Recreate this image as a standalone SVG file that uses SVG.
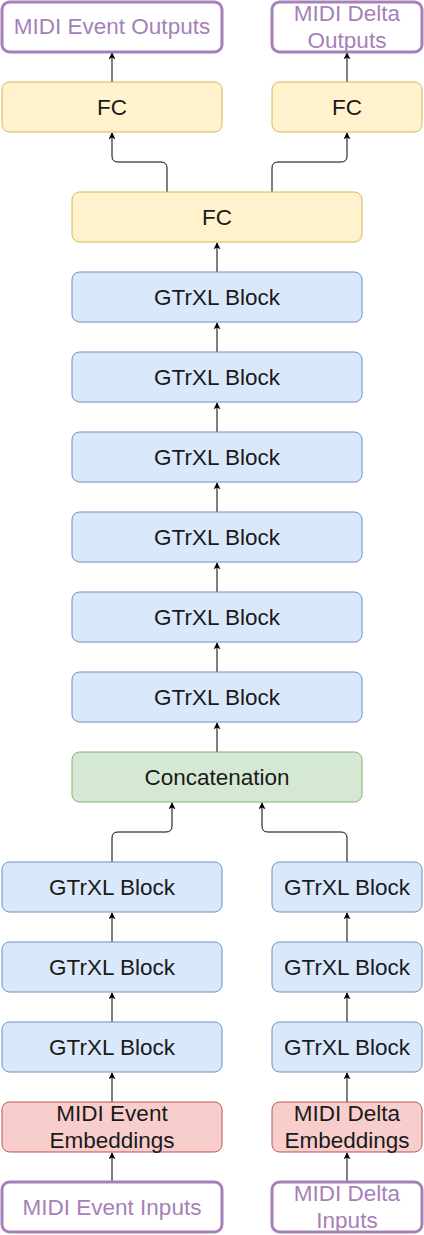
<svg xmlns="http://www.w3.org/2000/svg" width="424" height="1235" viewBox="0 0 424 1235">
<defs>
<marker id="arr" viewBox="0 0 10 10" refX="9" refY="5" markerWidth="7" markerHeight="7" markerUnits="userSpaceOnUse" orient="auto">
<path d="M0,0 L10,5 L0,10 L2.5,5 Z" fill="#000"/>
</marker>
<style>
rect{stroke-width:1}
.blue{fill:#dae8fc;stroke:#6c8ebf}
.yel{fill:#fff2cc;stroke:#d6b656}
.grn{fill:#d5e8d4;stroke:#82b366}
.red{fill:#f8cecc;stroke:#b85450}
.pur{fill:#fff;stroke:#a680b8;stroke-width:3}
text{font-size:22.5px;text-anchor:middle;fill:#1a1a1a}
.pt{fill:#a680b8}
.c path{fill:none;stroke:#000;stroke-width:1;marker-end:url(#arr)}
</style>
</defs>
<g class="c" id="connectors">
<path d="M112,82 V53"/>
<path d="M347,82 V53"/>
<path d="M167,192 V168 Q167,162 161,162 H118 Q112,162 112,156 V133"/>
<path d="M272,192 V168 Q272,162 278,162 H341 Q347,162 347,156 V133"/>
<path d="M217,272 V243"/>
<path d="M217,352 V323"/>
<path d="M217,432 V403"/>
<path d="M217,512 V483"/>
<path d="M217,592 V563"/>
<path d="M217,672 V643"/>
<path d="M217,752 V723"/>
<path d="M112,862 V838 Q112,832 118,832 H166 Q172,832 172,826 V803"/>
<path d="M347,862 V838 Q347,832 341,832 H268 Q262,832 262,826 V803"/>
<path d="M112,942 V913"/>
<path d="M347,942 V913"/>
<path d="M112,1022 V993"/>
<path d="M347,1022 V993"/>
<path d="M112,1102 V1073"/>
<path d="M347,1102 V1073"/>
<path d="M112,1182 V1153"/>
<path d="M347,1182 V1153"/>
</g>
<g font-family="Liberation Sans, Arial, Helvetica, sans-serif">
<g id="out-event"><rect class="pur" x="2" y="2" width="220" height="50" rx="7.5"/><text class="pt" x="112" y="34">MIDI Event Outputs</text></g>
<g id="out-delta"><rect class="pur" x="272" y="2" width="150" height="50" rx="7.5"/><text class="pt" x="347" y="21">MIDI Delta</text><text class="pt" x="347" y="48">Outputs</text></g>
<g id="fc-left"><rect class="yel" x="2" y="82" width="220" height="50" rx="7.5"/><text x="112" y="115">FC</text></g>
<g id="fc-right"><rect class="yel" x="272" y="82" width="150" height="50" rx="7.5"/><text x="347" y="115">FC</text></g>
<g id="fc-center"><rect class="yel" x="72" y="192" width="290" height="50" rx="7.5"/><text x="217" y="225">FC</text></g>
<g id="g6"><rect class="blue" x="72" y="272" width="290" height="50" rx="7.5"/><text x="217" y="305">GTrXL Block</text></g>
<g id="g5"><rect class="blue" x="72" y="352" width="290" height="50" rx="7.5"/><text x="217" y="385">GTrXL Block</text></g>
<g id="g4"><rect class="blue" x="72" y="432" width="290" height="50" rx="7.5"/><text x="217" y="465">GTrXL Block</text></g>
<g id="g3"><rect class="blue" x="72" y="512" width="290" height="50" rx="7.5"/><text x="217" y="545">GTrXL Block</text></g>
<g id="g2"><rect class="blue" x="72" y="592" width="290" height="50" rx="7.5"/><text x="217" y="625">GTrXL Block</text></g>
<g id="g1"><rect class="blue" x="72" y="672" width="290" height="50" rx="7.5"/><text x="217" y="705">GTrXL Block</text></g>
<g id="concat"><rect class="grn" x="72" y="752" width="290" height="50" rx="7.5"/><text x="217" y="785">Concatenation</text></g>
<g id="l3"><rect class="blue" x="2" y="862" width="220" height="50" rx="7.5"/><text x="112" y="895">GTrXL Block</text></g>
<g id="l2"><rect class="blue" x="2" y="942" width="220" height="50" rx="7.5"/><text x="112" y="975">GTrXL Block</text></g>
<g id="l1"><rect class="blue" x="2" y="1022" width="220" height="50" rx="7.5"/><text x="112" y="1055">GTrXL Block</text></g>
<g id="r3"><rect class="blue" x="272" y="862" width="150" height="50" rx="7.5"/><text x="347" y="895">GTrXL Block</text></g>
<g id="r2"><rect class="blue" x="272" y="942" width="150" height="50" rx="7.5"/><text x="347" y="975">GTrXL Block</text></g>
<g id="r1"><rect class="blue" x="272" y="1022" width="150" height="50" rx="7.5"/><text x="347" y="1055">GTrXL Block</text></g>
<g id="emb-event"><rect class="red" x="2" y="1102" width="220" height="50" rx="7.5"/><text x="112" y="1121">MIDI Event</text><text x="112" y="1148">Embeddings</text></g>
<g id="emb-delta"><rect class="red" x="272" y="1102" width="150" height="50" rx="7.5"/><text x="347" y="1121">MIDI Delta</text><text x="347" y="1148">Embeddings</text></g>
<g id="in-event"><rect class="pur" x="2" y="1182" width="220" height="50" rx="7.5"/><text class="pt" x="112" y="1215">MIDI Event Inputs</text></g>
<g id="in-delta"><rect class="pur" x="272" y="1182" width="150" height="50" rx="7.5"/><text class="pt" x="347" y="1201">MIDI Delta</text><text class="pt" x="347" y="1228">Inputs</text></g>
</g>
</svg>
